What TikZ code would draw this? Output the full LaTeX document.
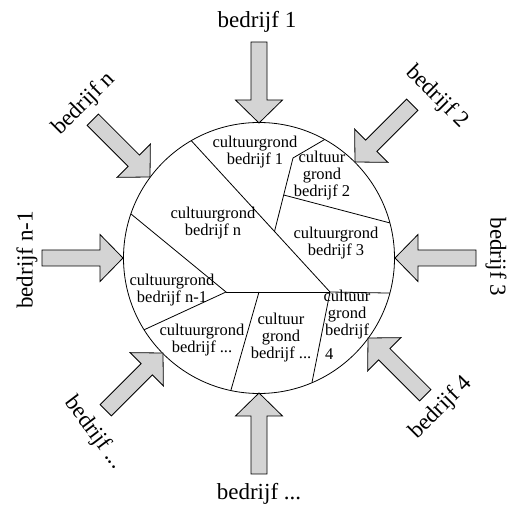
\documentclass[tikz,border=0pt]{standalone}
\usepackage{fontspec}
\setmainfont{Liberation Serif}
\definecolor{arrgray}{RGB}{212,212,212}
\tikzset{
  arr/.style={draw=black, fill=arrgray, line width=0.8pt, line join=miter},
  seg/.style={draw=black, line width=0.8pt},
  inlabel/.style={align=center, inner sep=0pt, font=\fontsize{16.5}{17}\selectfont},
  outlabel/.style={inner sep=0pt, font=\fontsize{23}{26}\selectfont},
}
\newcommand{\blockarr}[2]{\draw[arr, shift={(#1)}, rotate=#2] (0,0) -- (23,23.5) -- (23,8) -- (81,8) -- (81,-8) -- (23,-8) -- (23,-23.5) -- cycle;}
\begin{document}
\begin{tikzpicture}[x=1pt,y=1pt]
\useasboundingbox (0,0) rectangle (508,509);
% circle
\node[circle, draw, line width=0.8pt, minimum size=271pt, inner sep=0pt, outer sep=0pt] (c) at (259,251) {};
% interior points
\coordinate (A) at (226,217);
\coordinate (B) at (330,217);
\coordinate (C) at (259,217);
\coordinate (D) at (293,351);
\coordinate (E) at (274.5,277.5);
\coordinate (F) at (283.7,314);
% division lines
\draw[seg] (c.120) -- (B) -- (c.-15.9);
\draw[seg] (c.161.3) -- (A) -- (c.212.7);
\draw[seg] (A) -- (B);
\draw[seg] (C) -- (c.258.9);
\draw[seg] (B) -- (c.-67);
\draw[seg] (c.61.7) -- (D) -- (E);
\draw[seg] (F) -- (c.15.5);
% inner labels
\node[inlabel] (l1) at (255,357) {cultuurgrond\\bedrijf 1};
\node[inlabel] (l2) at (322,333) {cultuur\\grond\\bedrijf 2};
\node[inlabel] (ln) at (213,286) {cultuurgrond\\bedrijf n};
\node[inlabel] (l3) at (336,266) {cultuurgrond\\bedrijf 3};
\node[inlabel] (lnm) at (172,219) {cultuurgrond\\bedrijf n-1};
\node[inlabel] (ld1) at (202,169) {cultuurgrond\\bedrijf ...};
\node[inlabel] (ld2) at (281,171) {cultuur\\grond\\bedrijf ...};
\node[inlabel] (l4) at (347,182) {cultuur\\grond\\bedrijf\\[7pt]\rlap{4}\phantom{bedrijf}};
% arrow tips
\coordinate (t1) at (259,386);
\coordinate (tb) at (259,116);
\coordinate (tl) at (123,251);
\coordinate (tr) at (395,251);
\coordinate (tn) at (150,332);
\coordinate (t2) at (355,347);
\coordinate (t4) at (368,171);
\coordinate (td) at (163,156);
\blockarr{t1}{90}
\blockarr{tb}{270}
\blockarr{tl}{180}
\blockarr{tr}{0}
\blockarr{tn}{135}
\blockarr{t2}{45}
\blockarr{t4}{-45}
\blockarr{td}{225}
% outer labels
\node[outlabel] (o1) at (257,487) {bedrijf 1};
\node[outlabel] (ob) at (259,15) {bedrijf ...};
\node[outlabel, rotate=90] (onm) at (27,249) {bedrijf n-1};
\node[outlabel, rotate=-90] (o3) at (496,252) {bedrijf 3};
\node[outlabel, rotate=45] (on) at (84,405) {bedrijf n};
\node[outlabel, rotate=-45] (o2) at (437,412) {bedrijf 2};
\node[outlabel, rotate=45] (o4) at (441,101) {bedrijf 4};
\node[outlabel, rotate=-53] (od) at (94,76) {bedrijf ...};
\end{tikzpicture}
\end{document}
